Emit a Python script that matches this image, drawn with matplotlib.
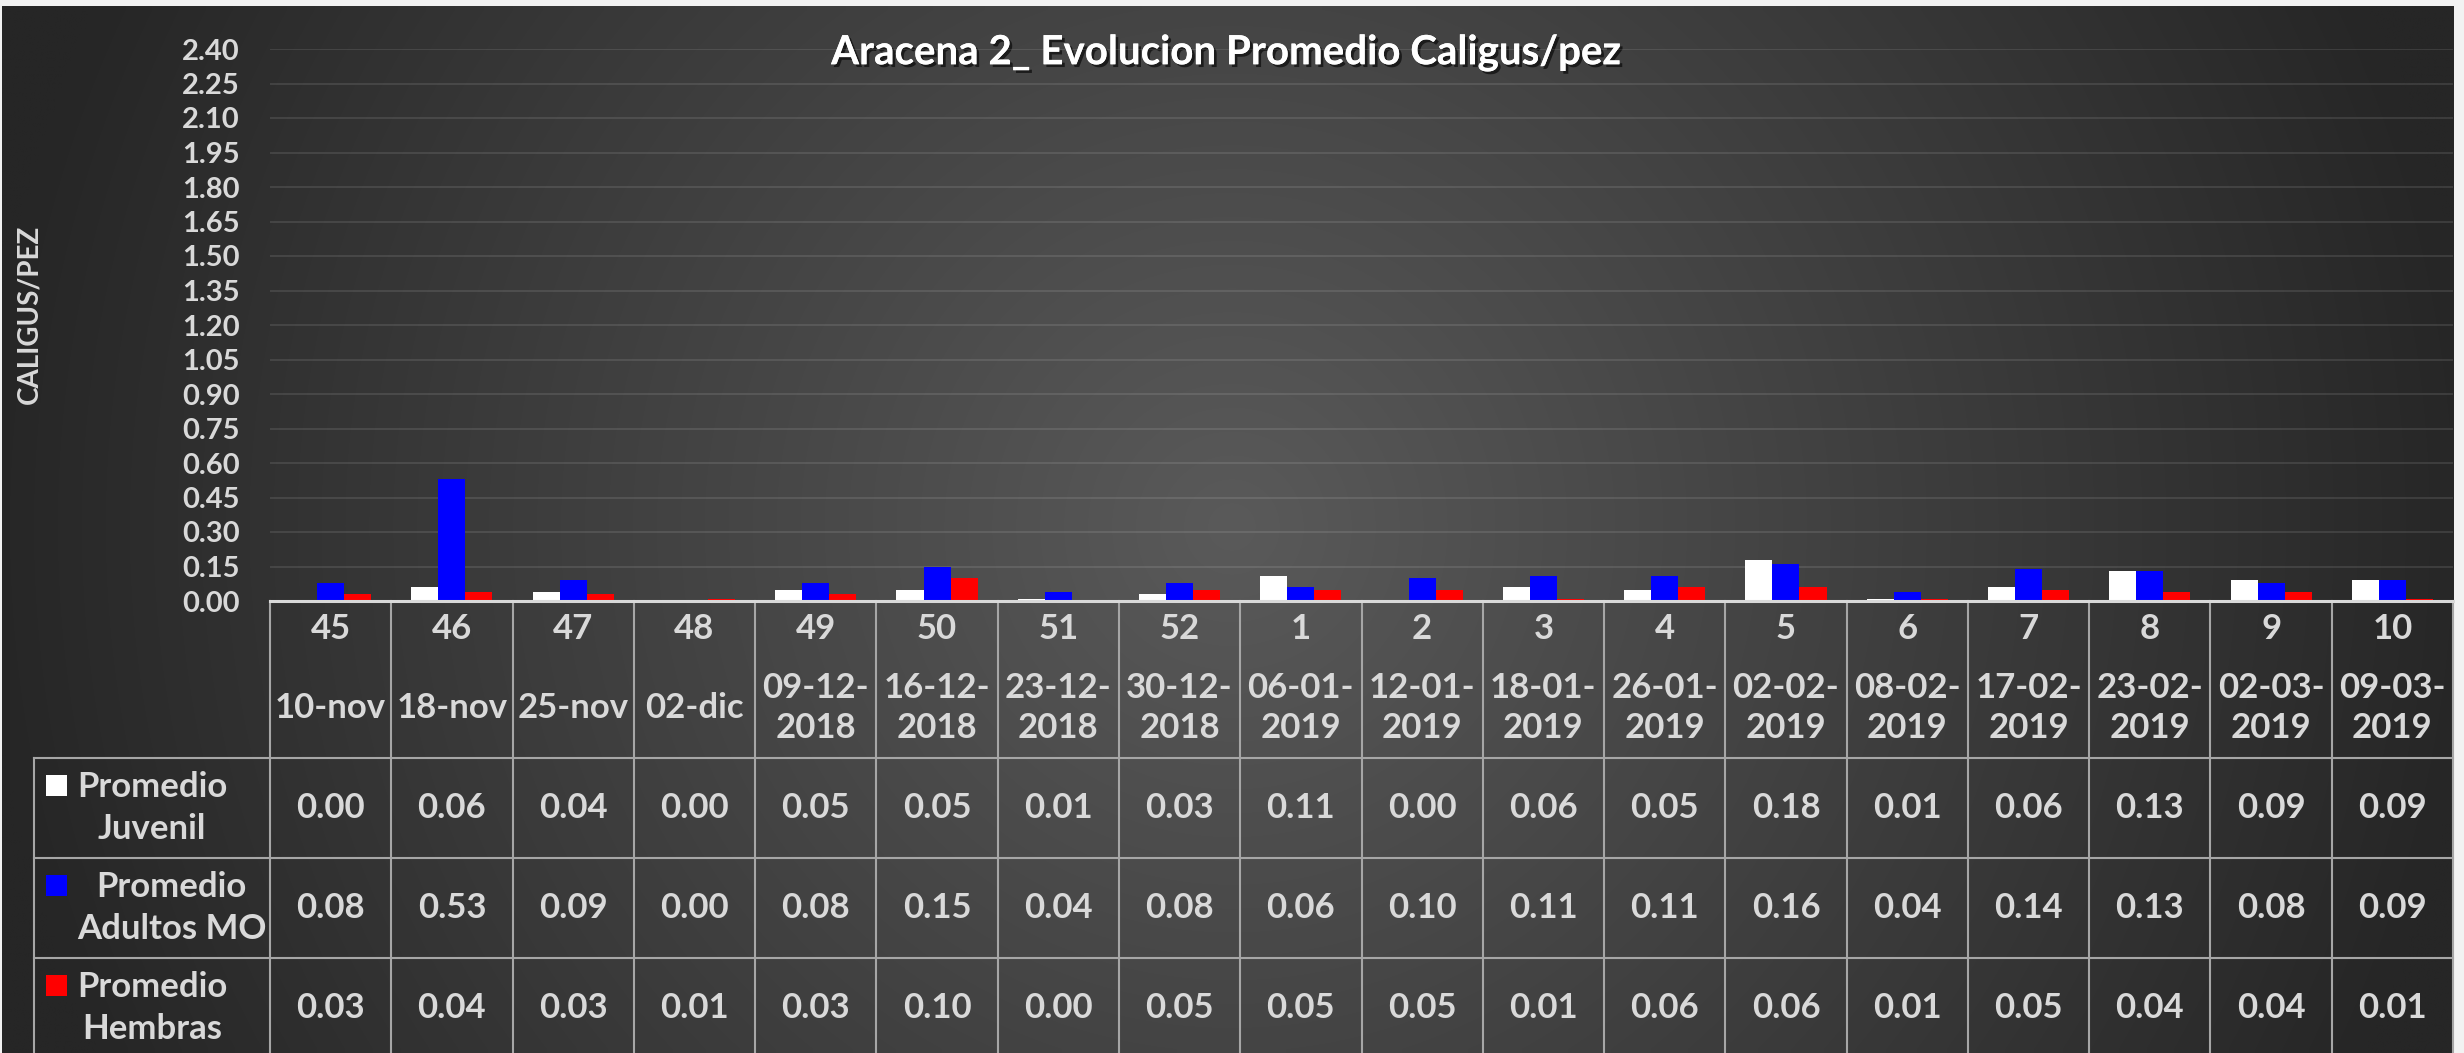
import numpy as np
import matplotlib
matplotlib.use('Agg')
import matplotlib.pyplot as plt
from matplotlib import font_manager
from matplotlib.transforms import blended_transform_factory
from matplotlib.patches import Rectangle
import matplotlib.patheffects as pe

# datos
semanas = ['45', '46', '47', '48', '49', '50', '51', '52', '1', '2', '3', '4', '5', '6', '7', '8', '9', '10']
fechas = ['10-nov', '18-nov', '25-nov', '02-dic', '09-12-\n2018', '16-12-\n2018', '23-12-\n2018',
          '30-12-\n2018', '06-01-\n2019', '12-01-\n2019', '18-01-\n2019', '26-01-\n2019',
          '02-02-\n2019', '08-02-\n2019', '17-02-\n2019', '23-02-\n2019', '02-03-\n2019', '09-03-\n2019']
juvenil = [0.00, 0.06, 0.04, 0.00, 0.05, 0.05, 0.01, 0.03, 0.11, 0.00, 0.06, 0.05, 0.18, 0.01, 0.06, 0.13, 0.09, 0.09]
adultos = [0.08, 0.53, 0.09, 0.00, 0.08, 0.15, 0.04, 0.08, 0.06, 0.10, 0.11, 0.11, 0.16, 0.04, 0.14, 0.13, 0.08, 0.09]
hembras = [0.03, 0.04, 0.03, 0.01, 0.03, 0.10, 0.00, 0.05, 0.05, 0.05, 0.01, 0.06, 0.06, 0.01, 0.05, 0.04, 0.04, 0.01]
series = ['Promedio\nJuvenil', 'Promedio\nAdultos MO', 'Promedio\nHembras']
colores = ['#ffffff', '#0000ff', '#ff0000']
yticks = np.arange(0, 2.41, 0.15)

# fuente parecida a Calibri
nombres = {f.name for f in font_manager.fontManager.ttflist}
fuente = next(f for f in ['Lato', 'Open Sans', 'Noto Sans', 'DejaVu Sans'] if f in nombres)
plt.rcParams['font.family'] = [fuente, 'DejaVu Sans']
plt.rcParams['font.weight'] = 'bold'

W, H = 2464, 1053
gris = '#d9d9d9'
borde = '#a6a6a6'
tam = 25

fig = plt.figure(figsize=(W / 100, H / 100), dpi=100, facecolor='#f2f2f2')

# fondo con degradado radial
fondo = fig.add_axes([0, 0, 1, 1], zorder=0)
fondo.set_xlim(0, W)
fondo.set_ylim(H, 0)
fondo.axis('off')
xx, yy = np.meshgrid(np.linspace(2, 2454, 300), np.linspace(6, H, 130))
t = np.clip(np.hypot(xx - 1232, yy - 527) / 1250, 0, 1)
c0, c1 = 0x5a / 255, 0x26 / 255
img = c0 + (c1 - c0) * t
fondo.imshow(np.dstack([img, img, img]), extent=(2, 2454, H, 6), aspect='auto',
             interpolation='bilinear', zorder=0)

# area de grafico
x0, x1, ytop, ycero = 270, 2453, 49, 601
ax = fig.add_axes([x0 / W, 1 - ycero / H, (x1 - x0) / W, (ycero - ytop) / H], zorder=2)
ax.set_facecolor('none')
n = len(semanas)
x = np.arange(n)
ancho = 0.223
for k, (vals, col) in enumerate(zip([juvenil, adultos, hembras], colores)):
    ax.bar(x + (k - 1) * ancho, vals, width=ancho, color=col, zorder=3)
ax.set_xlim(-0.5, n - 0.5)
ax.set_ylim(0, 2.40)
ax.set_yticks(yticks)
ax.set_yticklabels([f'{v:.2f}' for v in yticks])
ax.tick_params(axis='y', length=0, pad=22, labelsize=21, labelcolor=gris)
ax.tick_params(axis='x', length=0, labelbottom=False)
ax.grid(axis='y', color='white', alpha=0.1, linewidth=1.5)
ax.set_axisbelow(True)
for s in ['top', 'right', 'left']:
    ax.spines[s].set_visible(False)
ax.spines['bottom'].set_color(gris)
ax.spines['bottom'].set_linewidth(2.2)
ax.spines['bottom'].set_zorder(4)

# titulo y eje
fondo.text(1226, 53, 'Aracena 2_ Evolucion Promedio Caligus/pez', color='white', fontsize=29,
           fontweight='bold', ha='center', va='center', zorder=5,
           path_effects=[pe.withSimplePatchShadow(offset=(2, -2), shadow_rgbFace='black', alpha=0.6), pe.Normal()])
fondo.text(29, 314, 'CALIGUS/PEZ', color=gris, fontsize=20, fontweight='bold', rotation=90,
           ha='center', va='center', zorder=5)

# tabla de datos
mix = blended_transform_factory(ax.transData, fondo.transData)
filas = [758, 858, 958]
for b in np.arange(n + 1) - 0.5:
    fondo.plot([b, b], [ycero, H], transform=mix, color=borde, lw=1.5, zorder=4)
fondo.plot([34, 34], [filas[0], H], color=borde, lw=1.5, zorder=4)
for yf in filas:
    fondo.plot([34, x1], [yf, yf], color=borde, lw=1.5, zorder=4)

for i in range(n):
    fondo.text(i, 629, semanas[i], transform=mix, color=gris, fontsize=tam, ha='center', va='center', zorder=5)
    fondo.text(i, 708, fechas[i], transform=mix, color=gris, fontsize=tam, ha='center', va='center',
               linespacing=1.3, zorder=5)

for r, (nombre, col, vals) in enumerate(zip(series, colores, [juvenil, adultos, hembras])):
    yc = filas[r] + 50
    fondo.add_patch(Rectangle((46, yc - 33), 21, 21, facecolor=col, edgecolor='none', zorder=5))
    fondo.text(77, yc, nombre, color=gris, fontsize=tam, ha='left', va='center', multialignment='center',
               linespacing=1.4, zorder=5)
    for i, v in enumerate(vals):
        fondo.text(i, yc, f'{v:.2f}', transform=mix, color=gris, fontsize=tam, ha='center', va='center', zorder=5)

fig.savefig('out.png', dpi=100, facecolor=fig.get_facecolor())
